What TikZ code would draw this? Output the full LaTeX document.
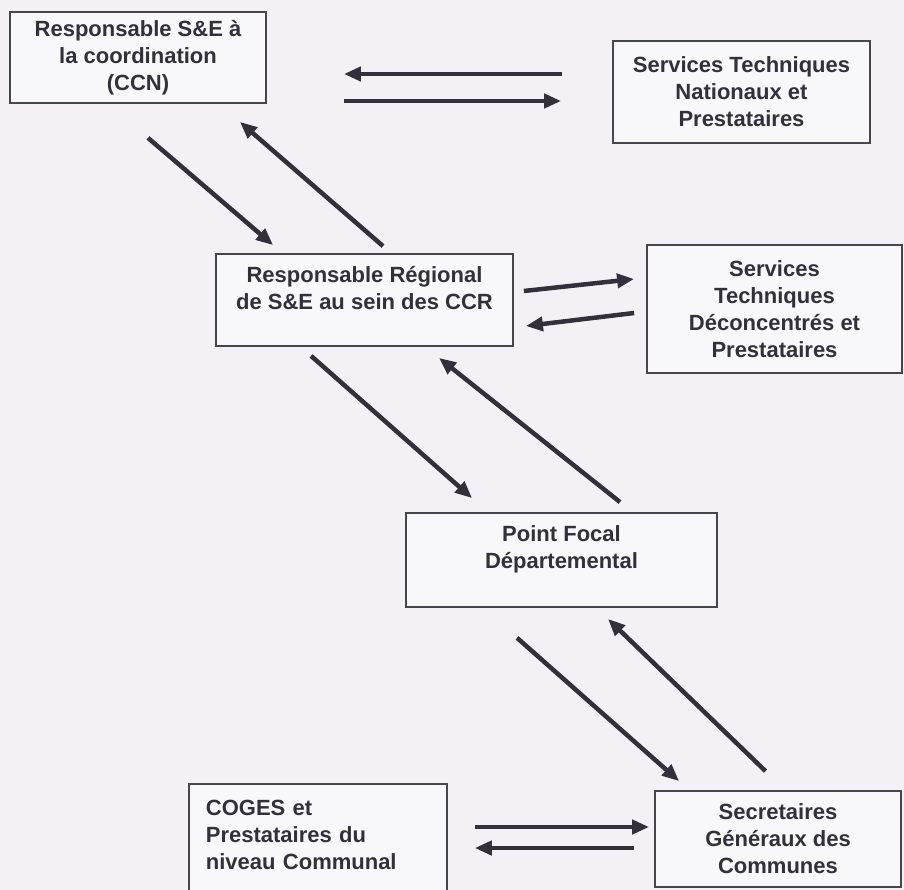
\documentclass[tikz,border=0pt]{standalone}
\usepackage{fontspec}
\setmainfont{Liberation Sans}
\usepackage{xcolor}
\usetikzlibrary{arrows.meta, calc}
\definecolor{ink}{RGB}{50,48,58}
\definecolor{paper}{RGB}{244,241,246}
\tikzset{
  box/.style   ={rectangle, draw=ink!90, line width=1.8pt, fill=white!40!paper,
                 align=center, text=ink, font=\fontsize{22}{27}\selectfont\bfseries,
                 inner sep=0pt},
  boxl/.style  ={box, align=left, anchor=north west, inner xsep=17pt, inner ysep=16pt},
  ar/.style    ={-{Triangle[length=17pt,width=14pt]}, draw=ink, line width=4.5pt},
}
\begin{document}
\begin{tikzpicture}[x=1pt, y=-1pt]
\fill[paper] (0,0) rectangle (904,890);
\useasboundingbox (0,0) rectangle (904,890);
\node[box, minimum width=256pt, minimum height=91pt] (ccn) at (138,57.5) {Responsable S\&E à\\la coordination\\(CCN)};
\node[box, minimum width=257pt, minimum height=102pt] (stn) at (741.5,92) {Services Techniques\\Nationaux et\\Prestataires};
\node[box, minimum width=297pt, minimum height=92pt] (rr) at (364.5,300) {Responsable Régional\\de S\&E au sein des CCR\rule[-24pt]{0pt}{0pt}};
\node[box, minimum width=255pt, minimum height=128pt] (std) at (774.5,309) {Services\\Techniques\\Déconcentrés et\\Prestataires};
\node[box, minimum width=311pt, minimum height=94pt] (pf) at (561.5,560) {Point Focal\\Départemental\rule[-25pt]{0pt}{0pt}};
\node[boxl, text width=224pt] (coges) at (188,783) {COGES et\\Prestataires du\\niveau Communal\rule[-40pt]{0pt}{0pt}};
\node[box, minimum width=246pt, minimum height=96pt] (sg) at (778,839) {Secretaires\\Généraux des\\Communes};
\draw[ar] ($(stn.west)+(-50,-18)$) -- ($(ccn.east)+(77,16.5)$);
\draw[ar] ($(ccn.east)+(77,43.5)$) -- ($(stn.west)+(-51,9)$);
\draw[ar] ($(ccn.south)+(10,34)$) -- ($(rr.north west)+(58,-8)$);
\draw[ar] ($(rr.north)+(18.5,-7)$) -- ($(ccn.south east)+(-27,18)$);
\draw[ar] ($(rr.east)+(10,-9)$) -- ($(std.west)+(-12,-30)$);
\draw[ar] ($(std.west)+(-12,4)$) -- ($(rr.east)+(12,26)$);
\draw[ar] ($(rr.south west)+(96,9)$) -- ($(pf.north west)+(67,-14)$);
\draw[ar] ($(pf.north)+(58.5,-10)$) -- ($(rr.south)+(74.5,11)$);
\draw[ar] ($(pf.south west)+(112,30)$) -- ($(sg.north west)+(25,-9)$);
\draw[ar] ($(sg.north)+(-12.5,-19)$) -- ($(pf.south)+(46.5,11)$);
\draw[ar] ($(coges.north east)+(27,44)$) -- ($(sg.west)+(-5,-12)$);
\draw[ar] ($(sg.west)+(-20,9)$) -- ($(coges.north east)+(27,65)$);
\end{tikzpicture}
\end{document}
